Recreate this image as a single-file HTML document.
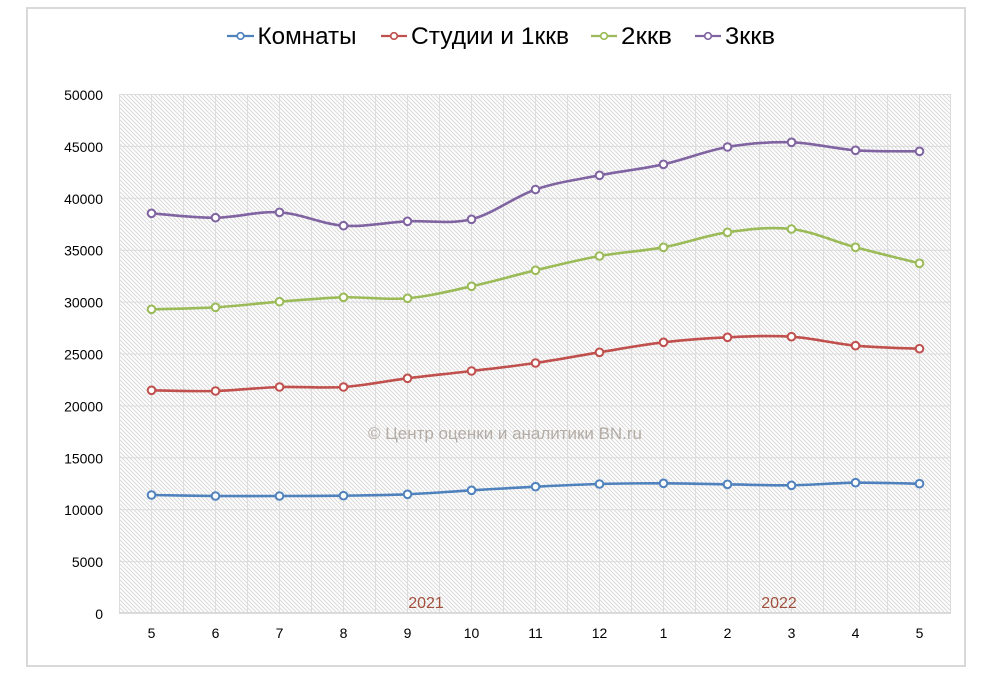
<!DOCTYPE html>
<html>
<head>
<meta charset="utf-8">
<style>
  html, body { margin: 0; padding: 0; background: #ffffff; }
  svg { display: block; }
  text { font-family: "Liberation Sans", "DejaVu Sans", sans-serif; }
</style>
</head>
<body>
<svg id="chart" width="994" height="675" viewBox="0 0 994 675" xmlns="http://www.w3.org/2000/svg">
  <defs>
    <pattern id="hatch" patternUnits="userSpaceOnUse" width="4" height="4">
      <rect width="4" height="4" fill="#ffffff"/>
      <path d="M-1,-1 L5,5 M-1,3 L1,5 M3,-1 L5,1" stroke="#dadada" stroke-width="1"/>
    </pattern>
  </defs>

  <rect x="0" y="0" width="994" height="675" fill="#ffffff"/>
  <!-- outer chart border -->
  <rect x="27" y="8" width="938" height="658" fill="none" stroke="#d9d9d9" stroke-width="2"/>

  <!-- plot area -->
  <rect x="119" y="94" width="832" height="519" fill="url(#hatch)"/>

  <!-- horizontal gridlines -->
  <g stroke="#dcdcdc" stroke-width="1">
    <line x1="119" y1="94.5" x2="951" y2="94.5"/>
    <line x1="119" y1="146.4" x2="951" y2="146.4"/>
    <line x1="119" y1="198.3" x2="951" y2="198.3"/>
    <line x1="119" y1="250.2" x2="951" y2="250.2"/>
    <line x1="119" y1="302.1" x2="951" y2="302.1"/>
    <line x1="119" y1="354" x2="951" y2="354"/>
    <line x1="119" y1="405.9" x2="951" y2="405.9"/>
    <line x1="119" y1="457.8" x2="951" y2="457.8"/>
    <line x1="119" y1="509.7" x2="951" y2="509.7"/>
    <line x1="119" y1="561.6" x2="951" y2="561.6"/>
  </g>
  <!-- vertical gridlines -->
  <g stroke="#dcdcdc" stroke-width="1">
    <line x1="119.5" y1="94" x2="119.5" y2="613"/>
    <line x1="151.5" y1="94" x2="151.5" y2="613"/>
    <line x1="183.5" y1="94" x2="183.5" y2="613"/>
    <line x1="215.5" y1="94" x2="215.5" y2="613"/>
    <line x1="247.5" y1="94" x2="247.5" y2="613"/>
    <line x1="279.5" y1="94" x2="279.5" y2="613"/>
    <line x1="311.5" y1="94" x2="311.5" y2="613"/>
    <line x1="343.5" y1="94" x2="343.5" y2="613"/>
    <line x1="375.5" y1="94" x2="375.5" y2="613"/>
    <line x1="407.5" y1="94" x2="407.5" y2="613"/>
    <line x1="439.5" y1="94" x2="439.5" y2="613"/>
    <line x1="471.5" y1="94" x2="471.5" y2="613"/>
    <line x1="503.5" y1="94" x2="503.5" y2="613"/>
    <line x1="535.5" y1="94" x2="535.5" y2="613"/>
    <line x1="567.5" y1="94" x2="567.5" y2="613"/>
    <line x1="599.5" y1="94" x2="599.5" y2="613"/>
    <line x1="631.5" y1="94" x2="631.5" y2="613"/>
    <line x1="663.5" y1="94" x2="663.5" y2="613"/>
    <line x1="695.5" y1="94" x2="695.5" y2="613"/>
    <line x1="727.5" y1="94" x2="727.5" y2="613"/>
    <line x1="759.5" y1="94" x2="759.5" y2="613"/>
    <line x1="791.5" y1="94" x2="791.5" y2="613"/>
    <line x1="823.5" y1="94" x2="823.5" y2="613"/>
    <line x1="855.5" y1="94" x2="855.5" y2="613"/>
    <line x1="887.5" y1="94" x2="887.5" y2="613"/>
    <line x1="919.5" y1="94" x2="919.5" y2="613"/>
    <line x1="950.5" y1="94" x2="950.5" y2="613"/>
  </g>
  <!-- x axis line -->
  <line x1="119" y1="613" x2="951" y2="613" stroke="#d0d0d0" stroke-width="1.5"/>

  <!-- Y axis labels -->
  <g font-size="14" fill="#000000" text-anchor="end">
    <text x="103" y="100">50000</text>
    <text x="103" y="151.9">45000</text>
    <text x="103" y="203.8">40000</text>
    <text x="103" y="255.7">35000</text>
    <text x="103" y="307.6">30000</text>
    <text x="103" y="359.5">25000</text>
    <text x="103" y="411.4">20000</text>
    <text x="103" y="463.3">15000</text>
    <text x="103" y="515.2">10000</text>
    <text x="103" y="567.1">5000</text>
    <text x="103" y="619">0</text>
  </g>

  <!-- X axis labels -->
  <g font-size="14" fill="#000000" text-anchor="middle">
    <text x="151.5" y="638">5</text>
    <text x="215.5" y="638">6</text>
    <text x="279.5" y="638">7</text>
    <text x="343.5" y="638">8</text>
    <text x="407.5" y="638">9</text>
    <text x="471.5" y="638">10</text>
    <text x="535.5" y="638">11</text>
    <text x="599.5" y="638">12</text>
    <text x="663.5" y="638">1</text>
    <text x="727.5" y="638">2</text>
    <text x="791.5" y="638">3</text>
    <text x="855.5" y="638">4</text>
    <text x="919.5" y="638">5</text>
  </g>

  <!-- year labels -->
  <g font-size="16" fill="#a0503c" text-anchor="middle">
    <text x="426" y="608">2021</text>
    <text x="779" y="608">2022</text>
  </g>

  <!-- watermark -->
  <text x="368" y="439" font-size="17" fill="#b4aca5" textLength="274" lengthAdjust="spacingAndGlyphs">© Центр оценки и аналитики BN.ru</text>

  <!-- series -->
  <g id="series" fill="none" stroke-width="2.6" stroke-linejoin="round" stroke-linecap="round">
    <path id="s-blue" stroke="#4f81bd" d="M151.5,495 L215.5,496 L279.5,496 L343.5,495.7 L407.5,494.3 L471.5,490.3 L535.5,486.7 L599.5,484 L663.5,483.3 L727.5,484.3 L791.5,485.3 L855.5,482.7 L919.5,483.7"/>
    <path id="s-red" stroke="#c0504d" d="M151.5,390.3 L215.5,391 L279.5,387 L343.5,387 L407.5,378.3 L471.5,371 L535.5,363 L599.5,352.3 L663.5,342.3 L727.5,337.3 L791.5,336.7 L855.5,345.7 L919.5,348.7"/>
    <path id="s-green" stroke="#9bbb59" d="M151.5,309.3 L215.5,307.3 L279.5,301.7 L343.5,297.3 L407.5,298.3 L471.5,286.3 L535.5,270.3 L599.5,256 L663.5,247.3 L727.5,232.3 L791.5,229 L855.5,247.3 L919.5,263.3"/>
    <path id="s-purple" stroke="#8064a2" d="M151.5,213.3 L215.5,217.7 L279.5,212.3 L343.5,225.7 L407.5,221.3 L471.5,219.3 L535.5,189.5 L599.5,175.3 L663.5,164.3 L727.5,147 L791.5,142.3 L855.5,150.3 L919.5,151.3"/>
  </g>
  <g id="markers"></g>

  <!-- legend -->
  <g stroke-width="2.2">
    <line x1="227" y1="36" x2="254" y2="36" stroke="#4f81bd"/>
    <circle cx="240.5" cy="36" r="3.3" fill="#ffffff" stroke="#4f81bd" stroke-width="1.7"/>
    <line x1="381" y1="36" x2="407" y2="36" stroke="#c0504d"/>
    <circle cx="394" cy="36" r="3.3" fill="#ffffff" stroke="#c0504d" stroke-width="1.7"/>
    <line x1="591" y1="36" x2="617" y2="36" stroke="#9bbb59"/>
    <circle cx="604" cy="36" r="3.3" fill="#ffffff" stroke="#9bbb59" stroke-width="1.7"/>
    <line x1="695" y1="36" x2="721" y2="36" stroke="#8064a2"/>
    <circle cx="708" cy="36" r="3.3" fill="#ffffff" stroke="#8064a2" stroke-width="1.7"/>
  </g>
  <g font-size="24" fill="#000000">
    <text x="257.5" y="44" textLength="99" lengthAdjust="spacingAndGlyphs">Комнаты</text>
    <text x="411" y="44" textLength="158" lengthAdjust="spacingAndGlyphs">Студии и 1ккв</text>
    <text x="621" y="44" textLength="51" lengthAdjust="spacingAndGlyphs">2ккв</text>
    <text x="725" y="44" textLength="50" lengthAdjust="spacingAndGlyphs">3ккв</text>
  </g>
</svg>
<script>
(function(){
  var NS = "http://www.w3.org/2000/svg";
  var series = [
    ["s-blue","#4f81bd",[495,496,496,495.7,494.3,490.3,486.7,484,483.3,484.3,485.3,482.7,483.7]],
    ["s-red","#c0504d",[390.3,391,387,387,378.3,371,363,352.3,342.3,337.3,336.7,345.7,348.7]],
    ["s-green","#9bbb59",[309.3,307.3,301.7,297.3,298.3,286.3,270.3,256,247.3,232.3,229,247.3,263.3]],
    ["s-purple","#8064a2",[213.3,217.7,212.3,225.7,221.3,219.3,189.5,175.3,164.3,147,142.3,150.3,151.3]]
  ];
  var mk = document.getElementById("markers");
  series.forEach(function(s){
    var ys = s[2], n = ys.length, pts = [];
    for (var i=0;i<n;i++) pts.push([151.5+64*i, ys[i]]);
    var d = "M"+pts[0][0]+","+pts[0][1];
    for (var i=0;i<n-1;i++){
      var p0 = pts[Math.max(i-1,0)], p1 = pts[i], p2 = pts[i+1], p3 = pts[Math.min(i+2,n-1)];
      var c1x = p1[0]+(p2[0]-p0[0])/6, c1y = p1[1]+(p2[1]-p0[1])/6;
      var c2x = p2[0]-(p3[0]-p1[0])/6, c2y = p2[1]-(p3[1]-p1[1])/6;
      d += " C"+c1x.toFixed(2)+","+c1y.toFixed(2)+" "+c2x.toFixed(2)+","+c2y.toFixed(2)+" "+p2[0]+","+p2[1];
    }
    document.getElementById(s[0]).setAttribute("d", d);
    pts.forEach(function(p){
      var c = document.createElementNS(NS,"circle");
      c.setAttribute("cx",p[0]); c.setAttribute("cy",p[1]); c.setAttribute("r","3.8");
      c.setAttribute("fill","#ffffff"); c.setAttribute("stroke",s[1]); c.setAttribute("stroke-width","2");
      mk.appendChild(c);
    });
  });
})();
</script>
</body>
</html>
